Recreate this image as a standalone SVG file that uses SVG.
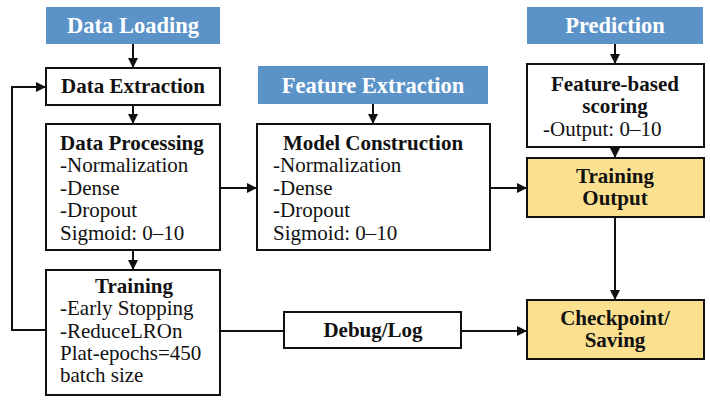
<svg xmlns="http://www.w3.org/2000/svg" width="710" height="403" viewBox="0 0 710 403">
<defs>
<marker id="ah" markerWidth="10" markerHeight="10" refX="9" refY="5" orient="auto" markerUnits="userSpaceOnUse">
<path d="M0,0 L10,5 L0,10 Z" fill="#111"/>
</marker>
<style>
.hdr{fill:#5b93c9;}
.hdrt{font-family:"Liberation Serif",serif;font-weight:bold;font-size:22.5px;fill:#fff;text-anchor:middle;}
.box{fill:#fff;stroke:#111;stroke-width:2;}
.ybox{fill:#fbe08f;stroke:#111;stroke-width:2;}
.t{font-family:"Liberation Serif",serif;font-size:21px;fill:#111;}
.b{font-weight:bold;}
.c{text-anchor:middle;}
.ln{fill:none;stroke:#111;stroke-width:2;}
.ar{fill:none;stroke:#111;stroke-width:2;marker-end:url(#ah);}
</style>
</defs>
<rect width="710" height="403" fill="#fff"/>

<g id="data-loading">
<rect class="hdr" x="46" y="7" width="174" height="37"/>
<text class="hdrt" x="133" y="33">Data Loading</text>
</g>
<g id="feature-extraction">
<rect class="hdr" x="258" y="66" width="230" height="38"/>
<text class="hdrt" x="373" y="93">Feature Extraction</text>
</g>
<g id="prediction">
<rect class="hdr" x="527" y="7" width="176" height="37"/>
<text class="hdrt" x="615" y="33">Prediction</text>
</g>

<g id="data-extraction">
<rect class="box" x="46" y="68" width="174" height="37"/>
<text class="t b c" x="133" y="93">Data Extraction</text>
</g>
<g id="data-processing">
<rect class="box" x="46" y="124" width="174" height="126"/>
<text class="t b" x="60" y="150">Data Processing</text>
<text class="t" x="60" y="172">-Normalization</text>
<text class="t" x="60" y="195">-Dense</text>
<text class="t" x="60" y="217">-Dropout</text>
<text class="t" x="60" y="240">Sigmoid: 0–10</text>
</g>
<g id="training">
<rect class="box" x="46" y="270" width="174" height="125"/>
<text class="t b c" x="134" y="293">Training</text>
<text class="t" x="60" y="315">-Early Stopping</text>
<text class="t" x="60" y="338">-ReduceLROn</text>
<text class="t" x="60" y="360">Plat-epochs=450</text>
<text class="t" x="60" y="382">batch size</text>
</g>
<g id="model-construction">
<rect class="box" x="257" y="124" width="233" height="126"/>
<text class="t b c" x="373" y="150">Model Construction</text>
<text class="t" x="273" y="172">-Normalization</text>
<text class="t" x="273" y="195">-Dense</text>
<text class="t" x="273" y="217">-Dropout</text>
<text class="t" x="273" y="240">Sigmoid: 0–10</text>
</g>
<g id="debug-log">
<rect class="box" x="284" y="312" width="177" height="36"/>
<text class="t b c" x="373" y="337">Debug/Log</text>
</g>
<g id="feature-scoring">
<rect class="box" x="527" y="64" width="177" height="83"/>
<text class="t b c" x="615" y="91">Feature-based</text>
<text class="t b c" x="615" y="113">scoring</text>
<text class="t" x="543" y="136">-Output: 0–10</text>
</g>
<g id="training-output">
<rect class="ybox" x="527" y="158" width="177" height="59"/>
<text class="t b c" x="615" y="183">Training</text>
<text class="t b c" x="615" y="205">Output</text>
</g>
<g id="checkpoint">
<rect class="ybox" x="527" y="300" width="177" height="59"/>
<text class="t b c" x="615" y="325">Checkpoint/</text>
<text class="t b c" x="615" y="347">Saving</text>
</g>

<g id="connectors">
<path class="ar" d="M133,44 V67"/>
<path class="ar" d="M133,105 V123"/>
<path class="ar" d="M133,250 V269"/>
<path class="ar" d="M373,104 V123"/>
<path class="ar" d="M615,44 V63"/>
<path class="ar" d="M615,147 V157"/>
<path class="ar" d="M220,188 H256"/>
<path class="ar" d="M490,188 H526"/>
<path class="ar" d="M615,217 V299"/>
<path class="ln" d="M220,331 H284"/>
<path class="ar" d="M461,331 H526"/>
<path class="ar" d="M46,330 H12 V87 H45"/>
</g>
</svg>
